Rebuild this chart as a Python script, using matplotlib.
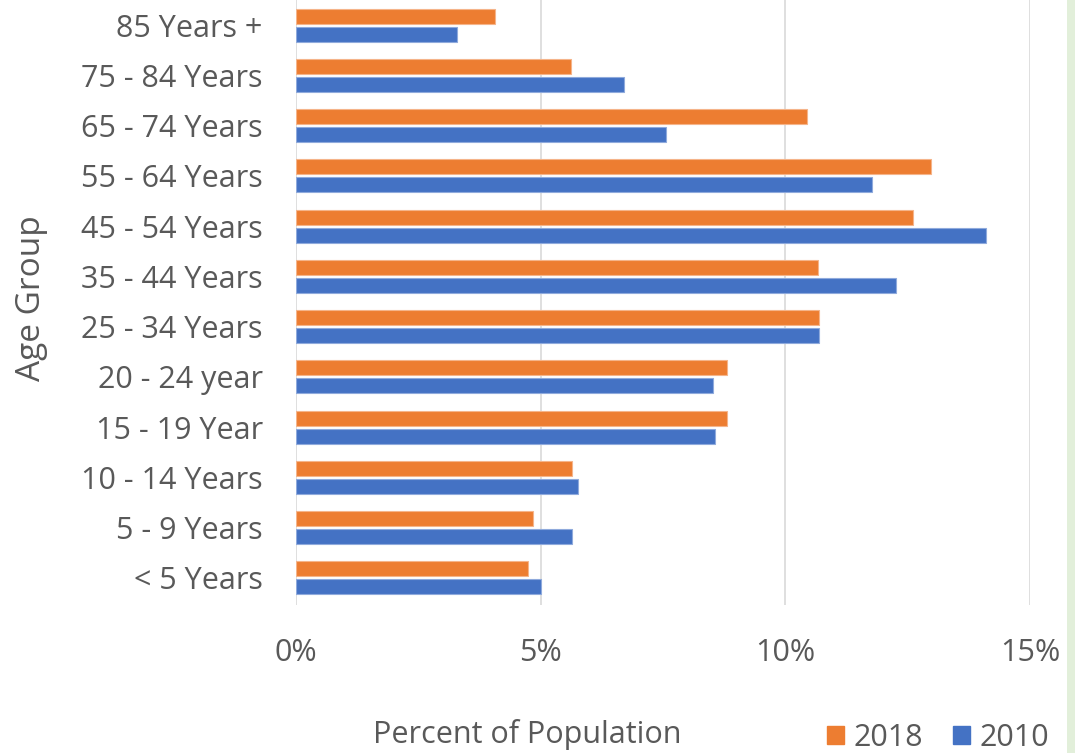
import numpy as np
import matplotlib
matplotlib.use('Agg')
import matplotlib.pyplot as plt
from matplotlib.patches import Rectangle, Patch

# age groups listed bottom to top
age_groups = ['< 5 Years', '5 - 9 Years', '10 - 14 Years', '15 - 19 Year', '20 - 24 year',
              '25 - 34 Years', '35 - 44 Years', '45 - 54 Years', '55 - 64 Years',
              '65 - 74 Years', '75 - 84 Years', '85 Years +']
pct_2018 = [4.74, 4.84, 5.64, 8.80, 8.81, 10.68, 10.66, 12.61, 12.97, 10.44, 5.61, 4.06]
pct_2010 = [5.01, 5.65, 5.76, 8.56, 8.52, 10.68, 12.26, 14.10, 11.77, 7.56, 6.71, 3.30]
x_ticks = [0, 5, 10, 15]
x_tick_labels = ['0%', '5%', '10%', '15%']

ORANGE = '#ED7D31'
BLUE = '#4472C4'
TEXT = '#595959'

plt.rcParams['font.family'] = ['Open Sans', 'DejaVu Sans']

fig = plt.figure(figsize=(10.75, 7.53), dpi=100)
ax = fig.add_axes([296 / 1075, 1 - 605 / 753, 734 / 1075, 605 / 753])

y = np.arange(len(age_groups))
h = 0.3
ax.barh(y + 0.18, pct_2018, height=h, color=ORANGE, edgecolor='#F5B48A', linewidth=0.8, zorder=3)
ax.barh(y - 0.18, pct_2010, height=h, color=BLUE, edgecolor='#8FAADC', linewidth=0.8, zorder=3)

ax.set_xlim(0, 15)
ax.set_ylim(-0.54, 11.5)
ax.set_xticks(x_ticks)
ax.set_xticklabels(x_tick_labels)
ax.set_yticks(y)
ax.set_yticklabels(age_groups)
ax.tick_params(axis='both', length=0, labelsize=22, labelcolor=TEXT)
ax.tick_params(axis='y', pad=24)
ax.tick_params(axis='x', pad=24)

ax.grid(axis='x', color='#D9D9D9', linewidth=1.2, zorder=0)
for s in ax.spines.values():
    s.set_visible(False)

fig.text(31 / 1075, 1 - 298 / 753, 'Age Group', fontsize=24, color=TEXT,
         rotation=90, ha='center', va='center')
fig.text(527 / 1075, 1 - 735 / 753, 'Percent of Population', fontsize=22, color=TEXT,
         ha='center', va='center')

handles = [Patch(color=ORANGE), Patch(color=BLUE)]
fig.legend(handles, ['2018', '2010'], loc='center', bbox_to_anchor=(938 / 1075, 1 - 738 / 753),
           ncol=2, frameon=False, fontsize=22, labelcolor=TEXT, handlelength=0.55,
           handleheight=0.55, handletextpad=0.3, columnspacing=1.0)

# green strip down the right edge
fig.patches.append(Rectangle((1067 / 1075, 0), 8 / 1075, 1, transform=fig.transFigure,
                             facecolor='#E2EFDA', edgecolor='none'))

fig.savefig('out.png', dpi=100)
